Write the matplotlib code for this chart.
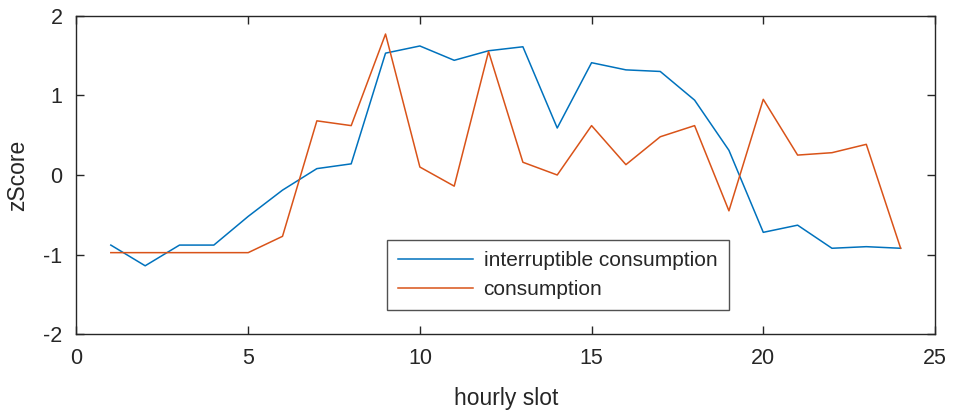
import matplotlib
matplotlib.use("Agg")
import matplotlib.pyplot as plt

plt.rcParams['font.family'] = ['Liberation Sans', 'DejaVu Sans']
plt.rcParams['axes.unicode_minus'] = False

hours = list(range(1, 25))
interruptible = [-0.88, -1.14, -0.88, -0.88, -0.52, -0.19, 0.08, 0.14,
                 1.53, 1.62, 1.44, 1.56, 1.61, 0.59, 1.41, 1.32,
                 1.30, 0.94, 0.31, -0.72, -0.63, -0.92, -0.90, -0.92]
consumption = [-0.975, -0.975, -0.975, -0.975, -0.975, -0.77, 0.68, 0.62,
               1.77, 0.10, -0.14, 1.55, 0.16, 0.0, 0.62, 0.13,
               0.48, 0.62, -0.45, 0.95, 0.25, 0.28, 0.385, -0.92]

fig = plt.figure(figsize=(9.56, 4.19), dpi=100)
ax = fig.add_axes([0.080, 0.2022, 0.898, 0.7603])

ax.plot(hours, interruptible, color='#0072BD', lw=1.1, label='interruptible consumption')
ax.plot(hours, consumption, color='#D95319', lw=1.1, label='consumption')

ax.set_xlim(0, 25)
ax.set_ylim(-2, 2)
ax.set_xticks([0, 5, 10, 15, 20, 25])
ax.set_yticks([-2, -1, 0, 1, 2])
ax.tick_params(direction='in', top=True, right=True, length=6, width=1,
               colors='#262626', labelsize=15.5, pad=10)
for s in ax.spines.values():
    s.set_color('#262626')
    s.set_linewidth(1)

ax.set_xlabel('hourly slot', fontsize=16.5, color='#262626', labelpad=13)
ax.set_ylabel('zScore', fontsize=16.5, color='#262626', labelpad=10)

leg = ax.legend(loc='upper left', bbox_to_anchor=(0.3613, 0.296), fontsize=15,
                frameon=True, fancybox=False, handlelength=3.6, handletextpad=0.5,
                borderpad=0.55, labelspacing=0.45, borderaxespad=0)
leg.get_frame().set_edgecolor('#262626')
leg.get_frame().set_linewidth(1)
for t in leg.get_texts():
    t.set_color('#262626')

fig.savefig('out.png', dpi=100)
